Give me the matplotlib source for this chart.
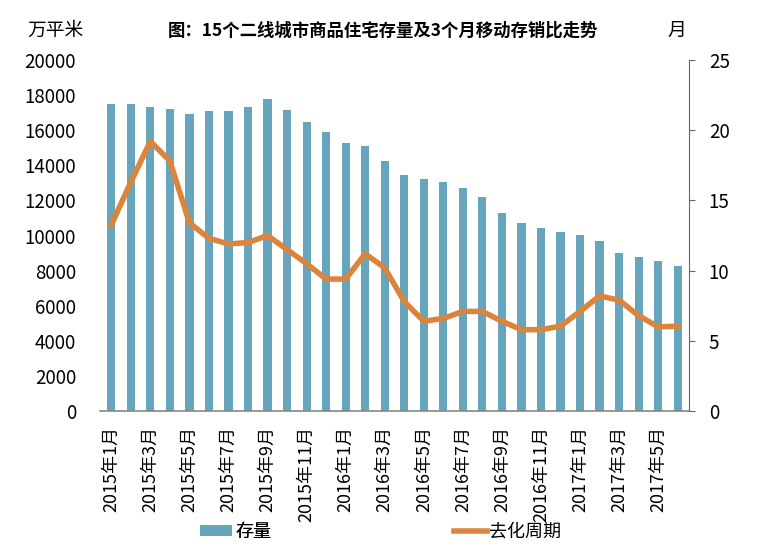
import numpy as np
import matplotlib
matplotlib.use("Agg")
import matplotlib.pyplot as plt

plt.rcParams['font.family'] = ['Noto Sans CJK SC', 'DejaVu Sans']

months = ['%d年%d月' % (y, m) for y in (2015, 2016, 2017) for m in range(1, 13)][:30]

stock = [17490, 17490, 17320, 17210, 16920, 17110, 17110, 17320, 17760, 17130,
         16490, 15920, 15270, 15100, 14250, 13430, 13240, 13050, 12690, 12210,
         11300, 10690, 10450, 10200, 10030, 9670, 9000, 8760, 8530, 8280]
cycle = [13.25, 16.3, 19.2, 17.8, 13.4, 12.3, 11.9, 12.0, 12.5, 11.5,
         10.5, 9.4, 9.4, 11.2, 10.2, 7.8, 6.4, 6.6, 7.1, 7.1,
         6.4, 5.8, 5.8, 6.05, 7.1, 8.2, 7.9, 6.8, 6.0, 6.05]

bar_color = '#67a5bc'
line_color = '#dc843c'

fig = plt.figure(figsize=(7.66, 5.49), dpi=100)
ax = fig.add_axes([0.13, 0.251, 0.77, 0.64])
x = np.arange(len(months))
b = ax.bar(x, stock, width=0.42, color=bar_color, label='存量', zorder=2)
ax.set_ylim(0, 20000)
ax.set_yticks(range(0, 20001, 2000))
ax.set_xlim(-0.6, len(months) - 0.4)
ax.set_xticks(x[::2])
ax.set_xticklabels(months[::2], rotation=90, fontsize=13)
ax.tick_params(axis='y', length=0, labelsize=13.5, pad=17)
ax.tick_params(axis='x', length=0, pad=11)
for s in ('left', 'top', 'right'):
    ax.spines[s].set_visible(False)
ax.spines['bottom'].set_color('#888888')
ax.spines['bottom'].set_linewidth(1.2)

ax2 = ax.twinx()
l, = ax2.plot(x, cycle, color=line_color, lw=4, label='去化周期', zorder=3)
ax2.set_ylim(0, 25)
ax2.set_yticks(range(0, 26, 5))
ax2.tick_params(axis='y', labelsize=13.5, length=4, color='#666666', pad=10)
for s in ('left', 'top', 'bottom'):
    ax2.spines[s].set_visible(False)
ax2.spines['right'].set_color('#666666')

fig.text(0.5, 0.945, '图：15个二线城市商品住宅存量及3个月移动存销比走势',
         ha='center', va='center', fontsize=12.5, fontweight='bold')
fig.text(0.073, 0.945, '万平米', ha='center', va='center', fontsize=13.5)
fig.text(0.883, 0.945, '月', ha='center', va='center', fontsize=13.5)

lg1 = fig.legend([b], ['存量'], loc='center left', bbox_to_anchor=(0.261, 0.031),
                 frameon=False, fontsize=13, handlelength=1.8, handleheight=0.5,
                 handletextpad=0.15, borderpad=0, borderaxespad=0)
fig.add_artist(lg1)
fig.legend([l], ['去化周期'], loc='center left', bbox_to_anchor=(0.593, 0.031),
           frameon=False, fontsize=13, handlelength=1.8,
           handletextpad=0.15, borderpad=0, borderaxespad=0)

fig.savefig('out.png', dpi=100)
